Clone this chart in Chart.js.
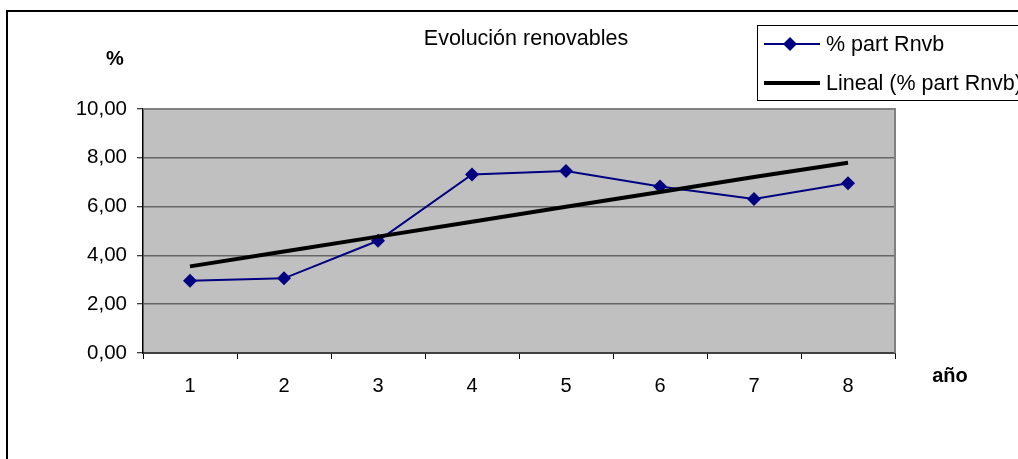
<!DOCTYPE html>
<html>
<head>
<meta charset="utf-8">
<script src="https://cdn.jsdelivr.net/npm/chart.js@4.4.1/dist/chart.umd.min.js"></script>
<style>
  html, body { margin: 0; padding: 0; background: #ffffff; }
  #wrap { width: 1018px; height: 459px; position: relative; overflow: hidden; }
</style>
</head>
<body>
<div id="wrap"><canvas id="c" width="1018" height="459"></canvas></div>
<script>
// ---- data ----
const categories = ['1', '2', '3', '4', '5', '6', '7', '8'];
const partRnvb = [2.96, 3.06, 4.60, 7.32, 7.46, 6.82, 6.31, 6.96];
const linealTrend = [3.55, 4.16, 4.77, 5.38, 5.99, 6.60, 7.21, 7.80];
const yTicks = [0, 2, 4, 6, 8, 10];
const chartTitle = 'Evolución renovables';
const seriesName = '% part Rnvb';
const trendName = 'Lineal (% part Rnvb)';
const yTitle = '%';
const xTitle = 'año';

const FONT = '"Liberation Sans", Arial, sans-serif';

const decor = {
  id: 'decor',
  beforeDraw(chart) {
    const { ctx, chartArea: a } = chart;
    ctx.save();
    ctx.fillStyle = '#ffffff';
    ctx.fillRect(0, 0, chart.width, chart.height);
    ctx.fillStyle = '#c0c0c0';
    ctx.fillRect(a.left, a.top, a.right - a.left, a.bottom - a.top);
    ctx.restore();
  },
  beforeDatasetsDraw(chart) {
    const { ctx, chartArea: a } = chart;
    ctx.save();
    ctx.strokeStyle = '#808080';
    ctx.lineWidth = 2;
    ctx.beginPath();
    ctx.moveTo(a.left, a.top);
    ctx.lineTo(a.right, a.top);
    ctx.lineTo(a.right, a.bottom);
    ctx.stroke();
    ctx.restore();
  },
  afterDraw(chart) {
    const { ctx } = chart;
    ctx.save();
    // outer frame
    ctx.strokeStyle = '#000000';
    ctx.lineWidth = 2;
    ctx.strokeRect(7, 11, 1100, 600);
    // title
    ctx.fillStyle = '#000000';
    ctx.textAlign = 'center';
    ctx.textBaseline = 'middle';
    ctx.font = '21.5px ' + FONT;
    ctx.fillText(chartTitle, 526, 39);
    // axis titles
    ctx.font = 'bold 20px ' + FONT;
    ctx.fillText(yTitle, 115, 59);
    ctx.fillText(xTitle, 950, 376);
    // legend
    ctx.lineWidth = 1;
    ctx.strokeStyle = '#000000';
    ctx.strokeRect(757.5, 25.5, 400, 75);
    ctx.strokeStyle = '#000080';
    ctx.lineWidth = 2;
    ctx.beginPath(); ctx.moveTo(764, 44); ctx.lineTo(820, 44); ctx.stroke();
    ctx.fillStyle = '#000080';
    ctx.beginPath();
    ctx.moveTo(790, 37); ctx.lineTo(797, 44); ctx.lineTo(790, 51); ctx.lineTo(783, 44);
    ctx.closePath(); ctx.fill();
    ctx.strokeStyle = '#000000';
    ctx.lineWidth = 4;
    ctx.beginPath(); ctx.moveTo(764, 83); ctx.lineTo(820, 83); ctx.stroke();
    ctx.fillStyle = '#000000';
    ctx.textAlign = 'left';
    ctx.font = '21.5px ' + FONT;
    ctx.fillText(seriesName, 826, 45);
    ctx.fillText(trendName, 826, 84);
    ctx.restore();
  }
};

new Chart(document.getElementById('c'), {
  type: 'line',
  data: {
    labels: categories,
    datasets: [
      {
        label: seriesName,
        data: partRnvb,
        borderColor: '#000080',
        backgroundColor: '#000080',
        borderWidth: 2,
        pointStyle: 'rectRot',
        pointRadius: 7,
        pointBorderWidth: 0,
        pointBackgroundColor: '#000080',
        tension: 0,
        order: 2
      },
      {
        label: trendName,
        data: linealTrend,
        borderColor: '#000000',
        borderWidth: 4,
        pointRadius: 0,
        tension: 0,
        order: 1
      }
    ]
  },
  options: {
    responsive: false,
    animation: false,
    events: [],
    layout: { padding: { left: 0, top: 109, right: 123, bottom: 0 } },
    plugins: {
      legend: { display: false },
      title: { display: false },
      tooltip: { enabled: false }
    },
    scales: {
      x: {
        offset: true,
        grid: {
          offset: true,
          drawOnChartArea: false,
          tickLength: 6,
          tickColor: '#000000',
          tickWidth: 1
        },
        border: { color: '#404040', width: 2 },
        ticks: {
          color: '#000000',
          padding: 15,
          font: { family: FONT, size: 20 }
        },
        afterFit(s) { s.height = 106; }
      },
      y: {
        min: 0,
        max: 10,
        afterBuildTicks(s) { s.ticks = yTicks.map(v => ({ value: v })); },
        grid: {
          color: '#666666',
          lineWidth: 1.5,
          tickLength: 6,
          tickColor: '#000000',
          tickWidth: 1
        },
        border: { color: '#000000', width: 1.5 },
        ticks: {
          color: '#000000',
          padding: 10,
          font: { family: FONT, size: 20.5 },
          callback(v) { return Number(v).toFixed(2).replace('.', ','); }
        },
        afterFit(s) { s.width = 143; }
      }
    }
  },
  plugins: [decor]
});
</script>
</body>
</html>
